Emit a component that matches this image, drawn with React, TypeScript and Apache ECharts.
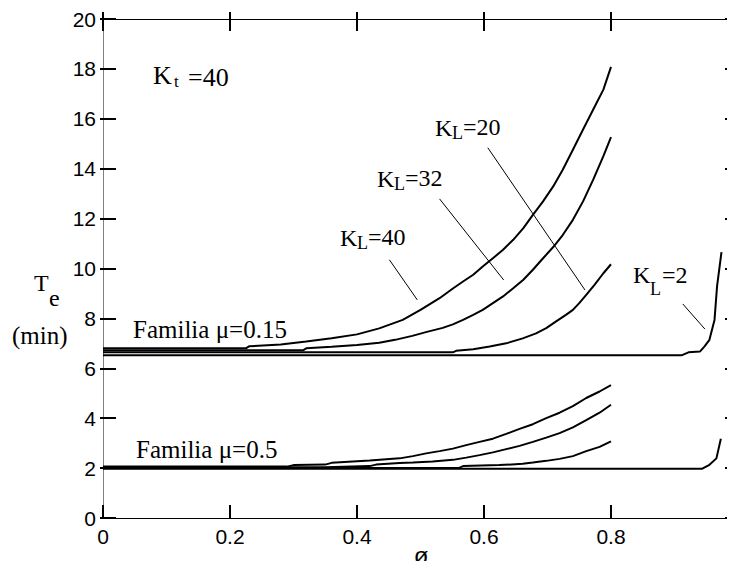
import React, { useEffect, useRef } from "react";
import * as echarts from "echarts";

// x-axis: porosity ø, y-axis: Te (min)
const xAxisTitle = "ø";
const xTickValues = [0, 0.2, 0.4, 0.6, 0.8, 1];
const yTickValues = [0, 2, 4, 6, 8, 10, 12, 14, 16, 18, 20];

// Familia mu = 0.15
const mu015_KL40: [number, number][] = [
  [0, 6.8], [0.225, 6.8], [0.23, 6.88], [0.28, 6.95], [0.32, 7.07], [0.36, 7.2], [0.4, 7.36],
  [0.435, 7.6], [0.472, 7.94], [0.5, 8.34], [0.53, 8.81], [0.551, 9.2],
  [0.567, 9.48], [0.583, 9.75], [0.598, 10.08], [0.614, 10.41], [0.63, 10.75], [0.646, 11.15],
  [0.662, 11.62], [0.677, 12.15], [0.693, 12.69], [0.709, 13.29], [0.724, 13.96], [0.74, 14.76],
  [0.756, 15.57], [0.772, 16.37], [0.788, 17.17], [0.8, 18.08],
];
const mu015_KL32: [number, number][] = [
  [0, 6.72], [0.315, 6.72], [0.32, 6.8], [0.36, 6.86], [0.4, 6.93], [0.435, 7.02], [0.46, 7.14],
  [0.487, 7.3], [0.51, 7.46], [0.535, 7.62], [0.551, 7.76], [0.567, 7.94], [0.583, 8.14],
  [0.598, 8.34], [0.614, 8.61], [0.63, 8.88], [0.646, 9.21], [0.662, 9.55], [0.677, 9.95],
  [0.693, 10.41], [0.709, 10.86], [0.724, 11.34], [0.74, 11.95], [0.756, 12.69], [0.772, 13.56],
  [0.788, 14.5], [0.8, 15.27],
];
const mu015_KL20: [number, number][] = [
  [0, 6.64], [0.551, 6.64], [0.556, 6.7], [0.583, 6.76], [0.609, 6.87], [0.635, 7.0], [0.661, 7.2],
  [0.682, 7.4], [0.698, 7.61], [0.713, 7.87], [0.729, 8.14], [0.74, 8.34], [0.75, 8.61],
  [0.761, 8.94], [0.774, 9.34], [0.788, 9.81], [0.8, 10.17],
];
const mu015_KL2: [number, number][] = [
  [0, 6.52], [0.911, 6.52], [0.922, 6.64], [0.94, 6.67], [0.947, 6.87], [0.955, 7.14],
  [0.963, 7.94], [0.967, 9.28], [0.974, 10.66],
];

// Familia mu = 0.5
const mu05_KL40: [number, number][] = [
  [0, 2.06], [0.29, 2.06], [0.3, 2.12], [0.35, 2.14], [0.36, 2.21], [0.42, 2.3], [0.467, 2.39],
  [0.488, 2.48], [0.509, 2.59], [0.53, 2.68], [0.551, 2.78], [0.572, 2.92], [0.593, 3.05],
  [0.614, 3.18], [0.635, 3.37], [0.656, 3.57], [0.677, 3.76], [0.698, 4.0], [0.719, 4.22],
  [0.74, 4.48], [0.761, 4.81], [0.782, 5.07], [0.8, 5.33],
];
const mu05_KL32: [number, number][] = [
  [0, 2.03], [0.35, 2.03], [0.42, 2.08], [0.43, 2.14], [0.467, 2.2], [0.488, 2.22], [0.519, 2.26],
  [0.551, 2.33], [0.572, 2.42], [0.593, 2.52], [0.614, 2.63], [0.635, 2.76], [0.656, 2.89],
  [0.677, 3.05], [0.698, 3.22], [0.719, 3.4], [0.74, 3.63], [0.761, 3.92], [0.782, 4.22],
  [0.8, 4.54],
];
const mu05_KL20: [number, number][] = [
  [0, 2.0], [0.56, 2.0], [0.567, 2.08], [0.624, 2.12], [0.661, 2.17], [0.677, 2.22], [0.698, 2.29],
  [0.719, 2.37], [0.74, 2.48], [0.761, 2.68], [0.782, 2.85], [0.8, 3.07],
];
const mu05_KL2: [number, number][] = [
  [0, 1.97], [0.943, 1.97], [0.955, 2.13], [0.966, 2.39], [0.973, 3.18],
];

// leader lines for the K_L labels
const leaderKL40: [number, number][] = [[0.451, 10.35], [0.495, 8.74]];
const leaderKL32: [number, number][] = [[0.53, 12.79], [0.631, 9.54]];
const leaderKL20: [number, number][] = [[0.606, 14.84], [0.759, 9.14]];
const leaderKL2: [number, number][] = [[0.913, 8.58], [0.948, 7.57]];

const SERIF = "'Liberation Serif', 'Times New Roman', serif";
const SANS = "'Liberation Sans', Arial, sans-serif";

function txt(text: string, x: number, y: number, size: number, family = SERIF, align = "left") {
  return {
    type: "text",
    x,
    y,
    silent: true,
    style: {
      text,
      fill: "#000",
      fontSize: size,
      fontFamily: family,
      align,
      verticalAlign: "middle",
      textAlign: align,
      textVerticalAlign: "middle",
    },
  };
}

export default function App() {
  const ref = useRef<HTMLDivElement>(null);

  useEffect(() => {
    if (!ref.current) return;
    const chart = echarts.init(ref.current, undefined, { renderer: "svg" });

    const curve = (data: [number, number][]) => ({
      type: "line",
      data,
      showSymbol: false,
      symbol: "none",
      lineStyle: { color: "#000", width: 2 },
      silent: true,
      z: 3,
    });
    const leader = (data: [number, number][]) => ({
      type: "line",
      data,
      showSymbol: false,
      symbol: "none",
      lineStyle: { color: "#000", width: 1 },
      silent: true,
      z: 2,
    });

    const baseX = { type: "value", min: 0, max: 1, interval: 0.2, gridIndex: 0 };
    const baseY = { type: "value", min: 0, max: 20, interval: 2, gridIndex: 0 };

    chart.setOption({
      animation: false,
      backgroundColor: "#fff",
      grid: {
        left: 103,
        top: 19,
        right: -3,
        bottom: 51,
        containLabel: false,
        outerBoundsMode: "none",
      },
      xAxis: [
        {
          ...baseX,
          position: "bottom",
          axisLine: { show: true, onZero: false, lineStyle: { color: "#000", width: 1.2 } },
          axisTick: { show: true, inside: true, length: 13, lineStyle: { color: "#000", width: 2 } },
          axisLabel: {
            show: true,
            margin: 8,
            fontFamily: SANS,
            fontSize: 21,
            color: "#000",
            showMinLabel: true,
            showMaxLabel: true,
            formatter: (v: number) => {
              const t = xTickValues.find((k) => Math.abs(k - v) < 1e-6);
              return t === undefined ? "" : String(t);
            },
          },
          splitLine: { show: false },
        },
        {
          ...baseX,
          position: "top",
          axisLine: { show: true, onZero: false, lineStyle: { color: "#000", width: 1 } },
          axisTick: { show: true, inside: true, length: 12, lineStyle: { color: "#000", width: 2 } },
          axisLabel: { show: false },
          splitLine: { show: false },
        },
        {
          ...baseX,
          position: "top",
          axisLine: { show: false, onZero: false },
          axisTick: { show: true, inside: false, length: 7, lineStyle: { color: "#000", width: 2 } },
          axisLabel: { show: false },
          splitLine: { show: false },
        },
      ],
      yAxis: [
        {
          ...baseY,
          position: "left",
          axisLine: { show: true, onZero: false, lineStyle: { color: "#808080", width: 1 } },
          axisTick: { show: true, inside: true, length: 13, lineStyle: { color: "#000", width: 2 } },
          axisLabel: {
            show: true,
            margin: 7,
            fontFamily: SANS,
            fontSize: 21,
            color: "#000",
            formatter: (v: number) => {
              const t = yTickValues.find((k) => Math.abs(k - v) < 1e-6);
              return t === undefined ? "" : String(t);
            },
          },
          splitLine: { show: false },
        },
        {
          ...baseY,
          position: "left",
          axisLine: { show: false, onZero: false },
          axisTick: { show: true, inside: false, length: 3, lineStyle: { color: "#000", width: 2 } },
          axisLabel: { show: false },
          splitLine: { show: false },
        },
        {
          ...baseY,
          position: "right",
          axisLine: { show: true, onZero: false, lineStyle: { color: "#000", width: 1 } },
          axisTick: { show: true, inside: true, length: 13, lineStyle: { color: "#000", width: 2 } },
          axisLabel: { show: false },
          splitLine: { show: false },
        },
      ],
      series: [
        curve(mu015_KL40),
        curve(mu015_KL32),
        curve(mu015_KL20),
        curve(mu015_KL2),
        curve(mu05_KL40),
        curve(mu05_KL32),
        curve(mu05_KL20),
        curve(mu05_KL2),
        leader(leaderKL40),
        leader(leaderKL32),
        leader(leaderKL20),
        leader(leaderKL2),
      ],
      graphic: [
        // x-axis title
        txt(xAxisTitle, 421, 555, 24, SANS, "center"),
        // K_t = 40
        txt("K", 153, 75, 26),
        txt("t", 174, 81, 17),
        txt("=40", 188, 77, 26),
        // T_e (min)
        txt("T", 34, 283, 24),
        txt("e", 49, 298, 24),
        txt("(min)", 12, 335, 25),
        // Families
        txt("Familia μ=0.15", 133, 329, 25),
        txt("Familia μ=0.5", 136, 449, 25),
        // K_L labels
        txt("K", 435, 128, 24),
        txt("L", 452, 133, 18),
        txt("=20", 463, 127, 24),
        txt("K", 377, 178.5, 24),
        txt("L", 394, 184, 18),
        txt("=32", 405, 178, 24),
        txt("K", 340, 237.5, 24),
        txt("L", 357, 243, 18),
        txt("=40", 368, 237, 24),
        txt("K", 633, 275, 24),
        txt("L", 650, 288.5, 18),
        txt("=2", 662, 275, 24),
      ],
    });

    return () => chart.dispose();
  }, []);

  return <div ref={ref} style={{ width: 735, height: 569, margin: -8 }} />;
}
